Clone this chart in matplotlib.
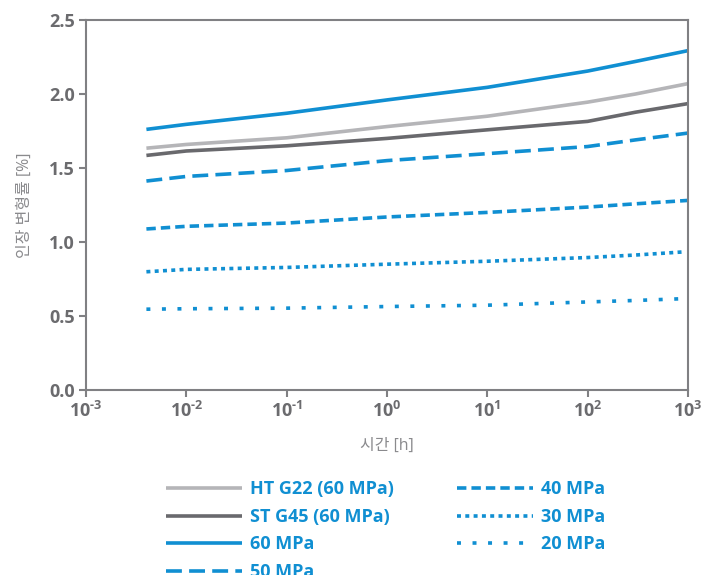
import numpy as np
import matplotlib
matplotlib.use("Agg")
import matplotlib.pyplot as plt
from matplotlib.ticker import FixedLocator, FixedFormatter

plt.rcParams['font.family'] = ['Open Sans', 'Noto Sans CJK KR', 'DejaVu Sans']
plt.rcParams['mathtext.fontset'] = 'custom'
plt.rcParams['mathtext.rm'] = 'Open Sans:bold'
plt.rcParams['mathtext.bf'] = 'Open Sans:bold'

# time [h]
t = [0.004, 0.01, 0.1, 1, 10, 100, 300, 1000]
t_dot = [0.004, 0.01, 0.1, 1, 10, 100, 300, 900]

ht_g22 = [1.634, 1.659, 1.704, 1.78, 1.85, 1.945, 2.00, 2.07]
st_g45 = [1.585, 1.615, 1.65, 1.70, 1.758, 1.815, 1.877, 1.935]
mpa60 = [1.761, 1.795, 1.87, 1.96, 2.045, 2.155, 2.22, 2.293]
mpa50 = [1.412, 1.443, 1.483, 1.55, 1.597, 1.645, 1.69, 1.736]
mpa40 = [1.088, 1.106, 1.128, 1.169, 1.20, 1.236, 1.258, 1.281]
mpa30 = [0.799, 0.815, 0.828, 0.85, 0.87, 0.895, 0.912, 0.933]
mpa20 = [0.546, 0.549, 0.553, 0.564, 0.573, 0.595, 0.605, 0.617]

xtick_pos = [1e-3, 1e-2, 1e-1, 1, 10, 100, 1000]
xtick_lab = [r'$10^{\text{-}3}$', r'$10^{\text{-}2}$', r'$10^{\text{-}1}$', r'$10^{0}$',
             r'$10^{1}$', r'$10^{2}$', r'$10^{3}$']

blue = '#108fd2'
tick_gray = '#6b6b6e'

fig = plt.figure(figsize=(7.16, 5.75), dpi=100)
ax = fig.add_axes([86 / 716, 1 - 390 / 575, 602 / 716, 370 / 575])

lw = 2.6
ax.plot(t, ht_g22, color='#b5b5b8', lw=lw, solid_capstyle='butt', label='HT G22 (60 MPa)')
ax.plot(t, st_g45, color='#69696d', lw=lw, solid_capstyle='butt', label='ST G45 (60 MPa)')
ax.plot(t, mpa60, color=blue, lw=lw, solid_capstyle='butt', label='60 MPa')
ax.plot(t, mpa50, color=blue, lw=lw, dashes=(4.4, 2.0), dash_capstyle='butt', label='50 MPa')
ax.plot(t, mpa40, color=blue, lw=lw, dashes=(2.6, 1.4), dash_capstyle='butt', label='40 MPa')
ax.plot(t_dot, mpa30, color=blue, lw=lw, dashes=(1.1, 1.2), dash_capstyle='butt', label='30 MPa')
ax.plot(t_dot, mpa20, color=blue, lw=lw, dashes=(1.1, 3.2), dash_capstyle='butt', label='20 MPa')

ax.set_xscale('log')
ax.set_xlim(1e-3, 1e3)
ax.set_ylim(0, 2.5)
ax.xaxis.set_major_locator(FixedLocator(xtick_pos))
ax.xaxis.set_major_formatter(FixedFormatter(xtick_lab))
ax.xaxis.set_minor_locator(FixedLocator([]))
ax.set_yticks([0, 0.5, 1.0, 1.5, 2.0, 2.5])
ax.set_yticklabels(['0.0', '0.5', '1.0', '1.5', '2.0', '2.5'])

for s in ax.spines.values():
    s.set_color('#808083')
    s.set_linewidth(1.5)
ax.tick_params(axis='both', direction='out', length=5, width=1.5, color='#808083',
               labelcolor=tick_gray, labelsize=13, pad=3)
for lab in ax.get_yticklabels():
    lab.set_fontweight('bold')

ax.set_ylabel('인장 변형률 [%]', color='#8a8a8d', fontsize=11.5, labelpad=12)
ax.set_xlabel('시간 [h]', color='#8a8a8d', fontsize=11.5, labelpad=12)

leg = fig.legend(loc='upper left', bbox_to_anchor=(150 / 716, 1 - 464 / 575), ncol=2,
                 frameon=False, handlelength=4.2, handletextpad=0.45, columnspacing=3.5,
                 labelspacing=0.53, prop={'size': 13, 'weight': 'bold'})
for txt in leg.get_texts():
    txt.set_color(blue)

fig.savefig('out.png', dpi=100)
